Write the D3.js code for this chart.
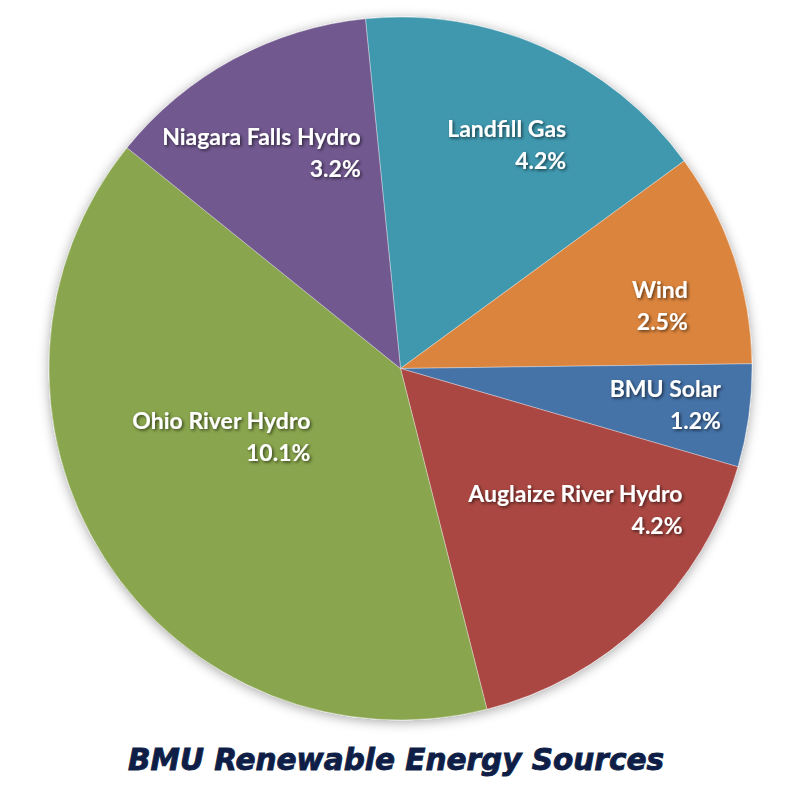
<!DOCTYPE html>
<html>
<head>
<meta charset="utf-8">
<script src="https://cdn.jsdelivr.net/npm/d3@7"></script>
<style>
  body { margin: 0; background: #fff; }
  svg { display: block; }
</style>
</head>
<body>
<svg width="800" height="800"></svg>
<script>
// data, clockwise from the top
var sources = ["Landfill Gas", "Wind", "BMU Solar", "Auglaize River Hydro", "Ohio River Hydro", "Niagara Falls Hydro"];
var shares = [4.2, 2.5, 1.2, 4.2, 10.1, 3.2];
var colors = ["#4198AF", "#DB843D", "#4572A7", "#AA4643", "#89A54E", "#71588F"];
var title = "BMU Renewable Energy Sources";

// label tweak (px) so they sit where the original best-fit put them
var labelNudge = [[6, 1], [26, 15], [21, 3], [4, -36], [28, -64], [-22, 1]];

var svg = d3.select("svg"),
    cx = 400.5, cy = 368.5, radius = 351.5;

var defs = svg.append("defs");
var pieShadow = defs.append("filter").attr("id", "pieShadow")
    .attr("x", "-10%").attr("y", "-10%").attr("width", "120%").attr("height", "120%");
pieShadow.append("feDropShadow")
    .attr("dx", 0).attr("dy", 2).attr("stdDeviation", 6)
    .attr("flood-color", "#000").attr("flood-opacity", 0.35);

var textShadow = defs.append("filter").attr("id", "textShadow")
    .attr("x", "-20%").attr("y", "-40%").attr("width", "140%").attr("height", "180%");
textShadow.append("feDropShadow")
    .attr("dx", 1.5).attr("dy", 1.5).attr("stdDeviation", 1.5)
    .attr("flood-color", "#000").attr("flood-opacity", 0.6);

var data = sources.map(function (s, i) { return {name: s, value: shares[i], color: colors[i]}; });

var start = -0.1;
var pie = d3.pie()
    .sort(null)
    .value(function (d) { return d.value; })
    .startAngle(start)
    .endAngle(start + 2 * Math.PI);

var arc = d3.arc().innerRadius(0).outerRadius(radius);
var labelArc = d3.arc().innerRadius(radius * 0.7).outerRadius(radius * 0.7);

var g = svg.append("g").attr("transform", "translate(" + cx + "," + cy + ")");

g.append("g")
    .attr("filter", "url(#pieShadow)")
    .selectAll("path")
    .data(pie(data))
    .enter()
    .append("path")
    .attr("d", arc)
    .style("fill", function (d) { return d.data.color; })
    .style("stroke", "rgba(255,255,255,0.35)")
    .style("stroke-width", "1px");

var fmt = d3.format(".1f");

var labels = g.append("g")
    .selectAll("g")
    .data(pie(data))
    .enter()
    .append("g")
    .attr("filter", "url(#textShadow)");

labels.each(function (d, i) {
    var c = labelArc.centroid(d);
    var x = c[0] + labelNudge[i][0], y = c[1] + labelNudge[i][1];
    var t = d3.select(this).append("text")
        .attr("text-anchor", "end")
        .style("font-family", "Lato, 'Open Sans', sans-serif")
        .style("font-weight", "bold")
        .style("font-size", "23px")
        .style("fill", "#fff");
    t.append("tspan").text(d.data.name);
    t.append("tspan").text(fmt(d.data.value) + "%");
    var w = d3.max(t.selectAll("tspan").nodes(), function (n) { return n.getComputedTextLength(); });
    t.selectAll("tspan")
        .attr("x", x + w / 2)
        .attr("y", function (p, j) { return y - 8 + j * 32; });
});

svg.append("text")
    .attr("x", 396)
    .attr("y", 770)
    .attr("text-anchor", "middle")
    .attr("textLength", 536)
    .attr("lengthAdjust", "spacingAndGlyphs")
    .style("font-family", "'DejaVu Sans', sans-serif")
    .style("font-weight", "bold")
    .style("font-style", "italic")
    .style("font-size", "30px")
    .style("fill", "#0e1e46")
    .style("stroke", "#0e1e46")
    .style("stroke-width", "0.9px")
    .text(title);
</script>
</body>
</html>
